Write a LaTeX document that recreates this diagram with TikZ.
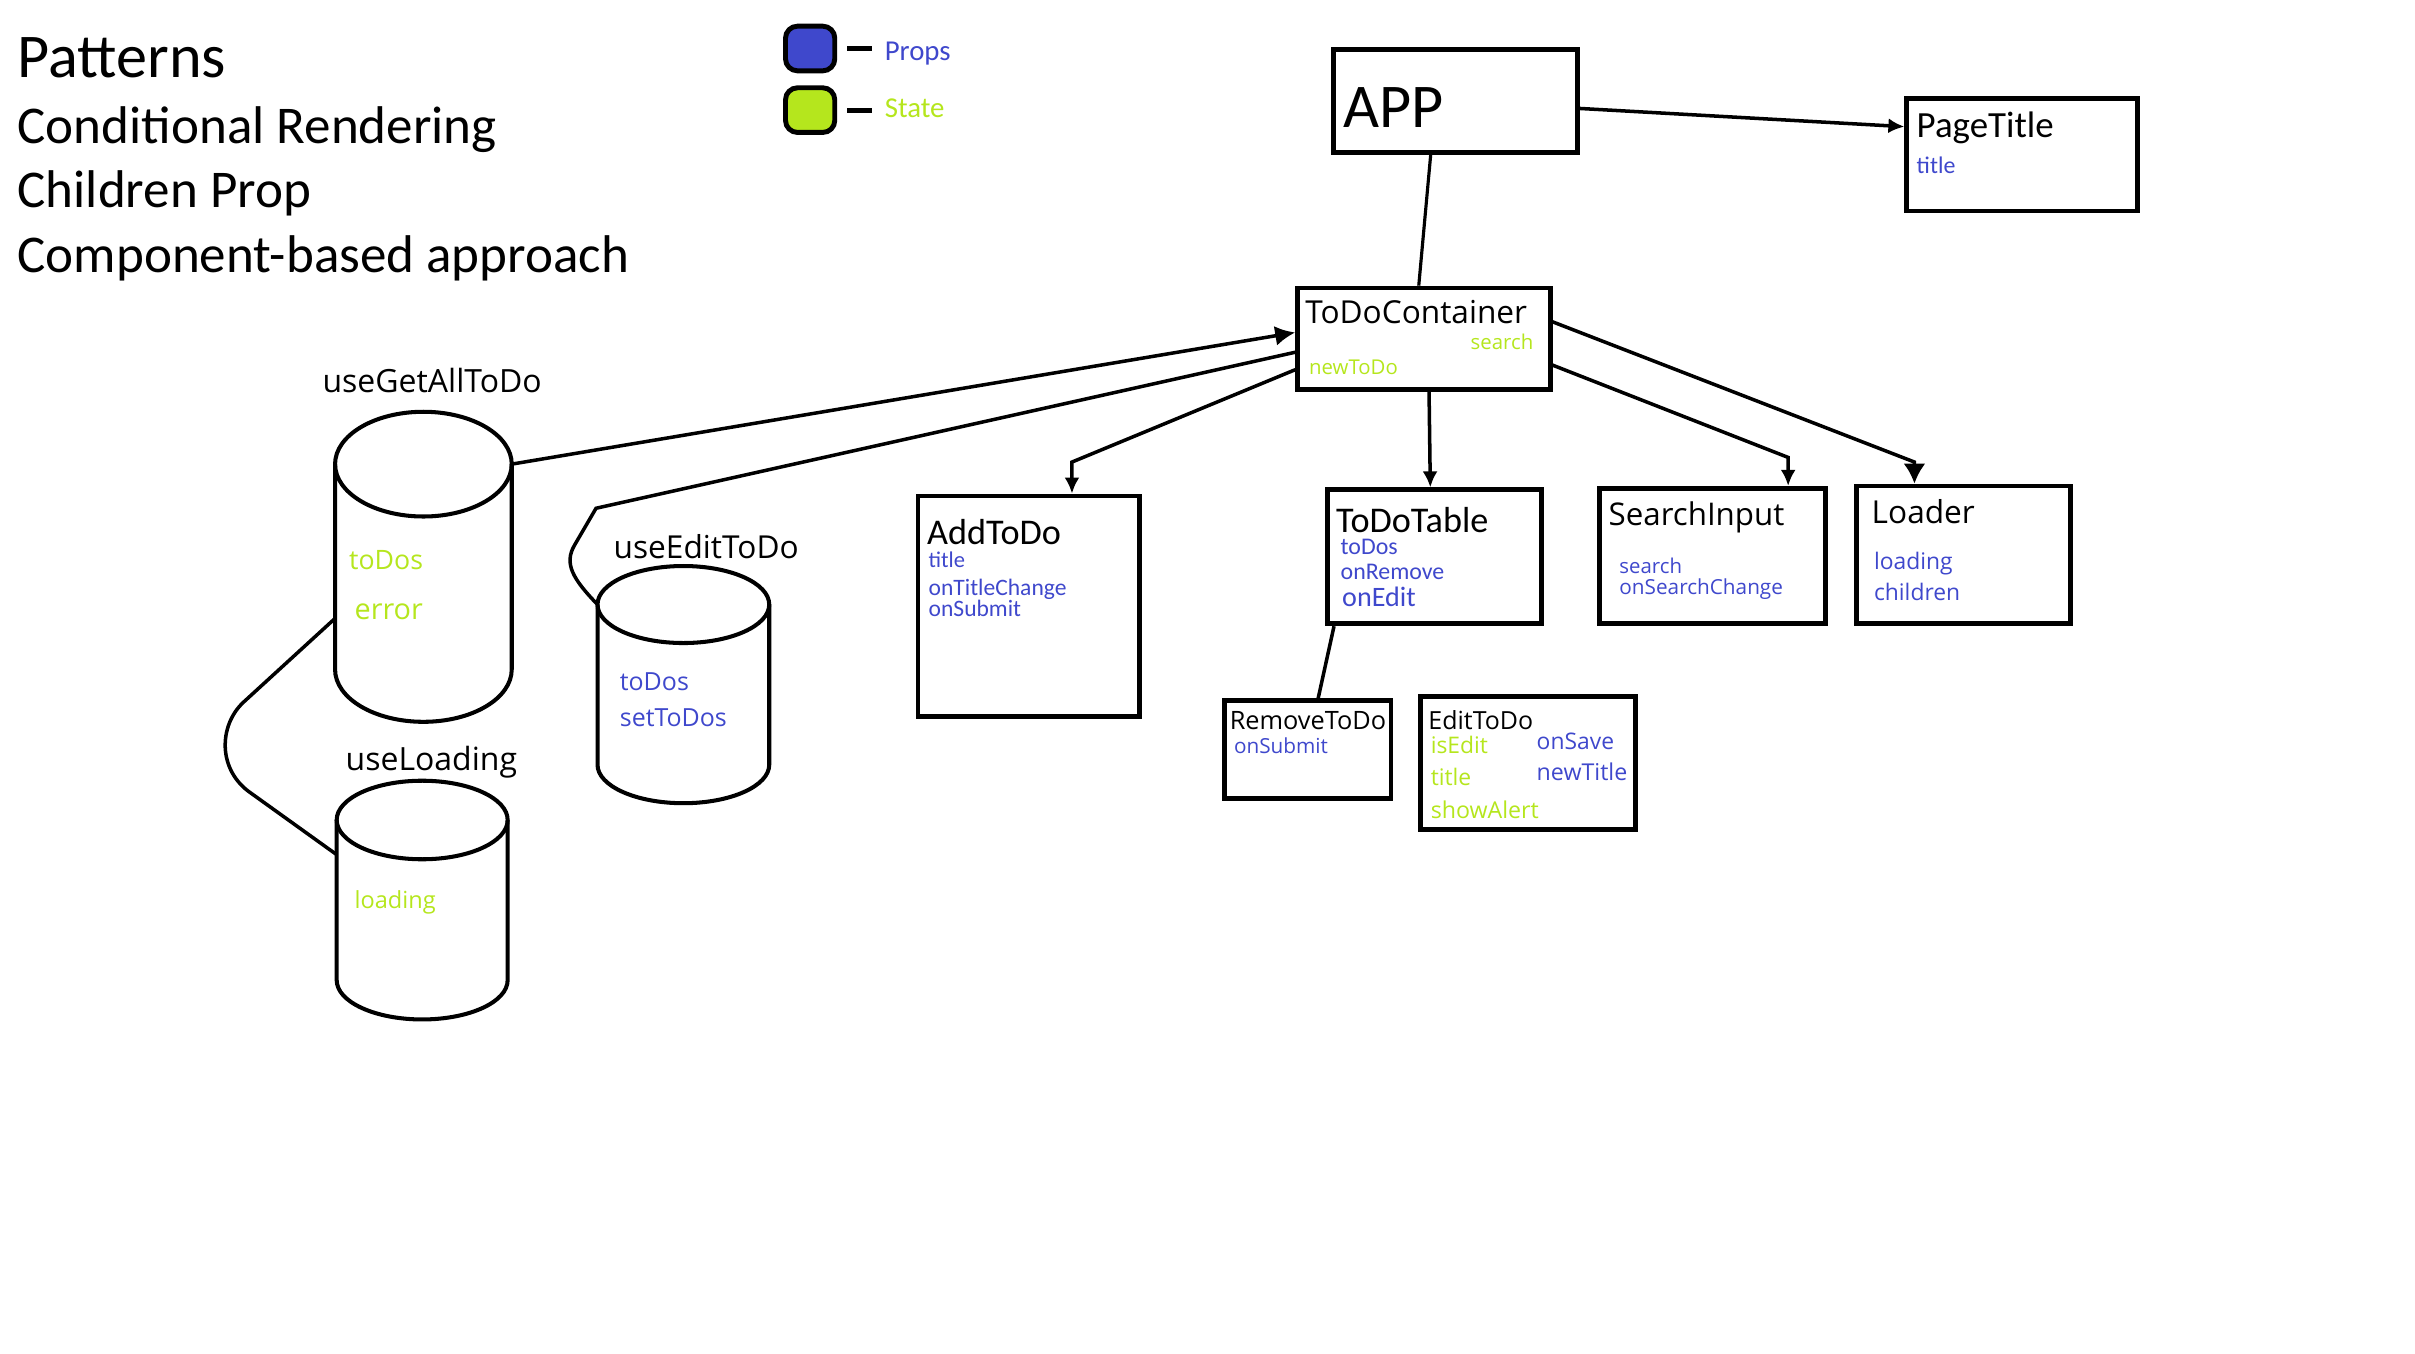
\documentclass[tikz,border=0pt]{standalone}
\usepackage{fontspec}
\setmainfont{Carlito}
\newfontfamily\segoe{Open Sans}
\usetikzlibrary{arrows.meta,calc}
\definecolor{propblue}{RGB}{63,72,204}
\definecolor{stategreen}{RGB}{181,230,29}
\newcommand{\unitpx}{0.15402mm}
\newcommand{\fsz}[1]{\fontsize{#1}{#1}\selectfont}
% outline of a hook drawn round its node: name, half width, cap height
\newcommand{\hookbody}[3]{%
    \draw[hookline] ($(#1.north west)+(0,#3)$) -- ($(#1.south west)+(0,-#3)$)
        arc[start angle=180, end angle=360, x radius=#2*\unitpx, y radius=#3*\unitpx]
        -- ($(#1.north east)+(0,#3)$);
    \draw[hookline] ($(#1.north)+(0,#3)$) ellipse[x radius=#2*\unitpx, y radius=#3*\unitpx];
}
\tikzset{
    comp/.style 2 args={draw, line width=1.35pt, inner sep=0pt,
        minimum width=#1*\unitpx, minimum height=#2*\unitpx},
    hook/.style 2 args={inner sep=0pt, outer sep=0pt,
        minimum width=#1*\unitpx, minimum height=#2*\unitpx},
    hookline/.style={line width=1.15pt},
    key/.style={draw, line width=1.4pt, rounded corners=1.2mm, inner sep=0pt,
        minimum width=32*\unitpx, minimum height=29*\unitpx},
    txt/.style={anchor=base west, inner sep=0pt},
    prop/.style={txt, text=propblue},
    state/.style={txt, text=stategreen},
    link/.style={line width=1pt},
    arr/.style={link, -{Latex[length=1.6mm,width=1.5mm]}},
    keydash/.style={line width=1.4pt, shorten <=2.8pt, shorten >=3.5pt}
}
\begin{document}
\begin{tikzpicture}[x=\unitpx, y=-\unitpx]
    \useasboundingbox (0,0) rectangle (1568,879.1);

    % Heading
    \node[txt, font=\fsz{17.7}] (patterns) at (11,50) {Patterns};
    \node[txt, font=\fsz{15.1}] (condrender) at (11,93) {Conditional Rendering};
    \node[txt, font=\fsz{15.1}] (childprop) at (11,135) {Children Prop};
    \node[txt, font=\fsz{15.1}] (compbased) at (11,177) {Component-based approach};

    % Legend
    \node[key, fill=propblue] (propkey) at (526,31.5) {};
    \node[key, fill=stategreen] (statekey) at (526,71.5) {};
    \node[prop, font=\fsz{8.2}] (propname) at (574,39.5) {Props};
    \node[state, font=\fsz{8.2}] (statename) at (574,76.5) {State};
    \draw[keydash] (propkey.east) -- (propkey.east -| propname.west);
    \draw[keydash] (statekey.east) -- (statekey.east -| statename.west);

    % Components
    \node[comp={158}{67}] (app) at (945,65.5) {};
    \node[comp={150}{73}] (pagetitle) at (1313,100.5) {};
    \node[comp={164}{66}] (container) at (924.5,220) {};
    \node[comp={144}{143}] (addtodo) at (668,393.5) {};
    \node[comp={139}{87}] (todotable) at (931.5,361.5) {};
    \node[comp={146.5}{88}] (searchinput) at (1111.8,361) {};
    \node[comp={139}{89.5}] (loader) at (1275,360.3) {};
    \node[comp={108}{63.5}] (removetodo) at (849.2,486.6) {};
    \node[comp={140}{86}] (edittodo) at (992.1,495.4) {};

    % Hooks
    \node[hook={114.7}{201.3}] (getall) at (274.9,368) {};
    \node[hook={111.5}{154}] (edithook) at (443.7,444.5) {};
    \node[hook={111}{155}] (loadhook) at (274.1,584.4) {};
    \hookbody{getall}{57.35}{34}
    \hookbody{edithook}{55.75}{25}
    \hookbody{loadhook}{55.5}{25.5}

    % Texts in the components
    \node[txt, font=\fsz{17.7}] (apptext) at (872,82.5) {APP};
    \node[txt, font=\fsz{10.5}] (pagetitletext) at (1244,89.5) {PageTitle};
    \node[prop, font=\fsz{6.8}] (pagetitleprop) at (1244,112.5) {title};
    \node[txt, font=\segoe\fsz{9}] (containertext) at (847,210) {ToDoContainer};
    \node[state, font=\segoe\fsz{5.8}, anchor=base east] (containersearch) at (996,227) {search};
    \node[state, font=\segoe\fsz{5.8}] (containernew) at (849.5,243) {newToDo};
    \node[txt, font=\fsz{10.3}] (addtodotext) at (601.5,353.5) {AddToDo};
    \node[prop, font=\fsz{6.4}] (addtitle) at (602.5,368.5) {title};
    \node[prop, font=\fsz{6.7}] (addchange) at (602.5,386.5) {onTitleChange};
    \node[prop, font=\fsz{6.7}] (addsubmit) at (602.5,400) {onSubmit};
    \node[txt, font=\fsz{10.3}] (tabletext) at (867,345.5) {ToDoTable};
    \node[prop, font=\fsz{6.8}] (tabletodos) at (870,360) {toDos};
    \node[prop, font=\fsz{6.8}] (tableremove) at (870,376) {onRemove};
    \node[prop, font=\fsz{8}] (tableedit) at (871,394) {onEdit};
    \node[txt, font=\segoe\fsz{8.9}] (searchtext) at (1044,341.5) {SearchInput};
    \node[prop, font=\segoe\fsz{5.8}] (searchsearch) at (1051,372.2) {search};
    \node[prop, font=\segoe\fsz{5.9}] (searchchange) at (1051,386.3) {onSearchChange};
    \node[txt, font=\segoe\fsz{9}] (loadertext) at (1214.8,339.8) {Loader};
    \node[prop, font=\segoe\fsz{6.5}] (loaderloading) at (1216.3,369.6) {loading};
    \node[prop, font=\segoe\fsz{6.5}] (loaderchildren) at (1216.3,390) {children};
    \node[txt, font=\segoe\fsz{7.2}] (removetext) at (798,473.5) {RemoveToDo};
    \node[prop, font=\segoe\fsz{5.9}] (removesubmit) at (800.8,489.5) {onSubmit};
    \node[txt, font=\segoe\fsz{7.1}] (edittext) at (927,473.5) {EditToDo};
    \node[state, font=\segoe\fsz{6.5}] (editisedit) at (928.5,489.5) {isEdit};
    \node[state, font=\segoe\fsz{6.5}] (edittitle) at (928.5,509.7) {title};
    \node[state, font=\segoe\fsz{6.6}] (editalert) at (928.5,531.3) {showAlert};
    \node[prop, font=\segoe\fsz{6.5}] (editsave) at (997.3,486.5) {onSave};
    \node[prop, font=\segoe\fsz{6.6}] (editnewtitle) at (997.3,507) {newTitle};

    % Texts of the hooks
    \node[txt, font=\segoe\fsz{9.1}] (getalltext) at (209,255) {useGetAllToDo};
    \node[state, font=\segoe\fsz{7.6}] (getalltodos) at (226.2,369.7) {toDos};
    \node[state, font=\segoe\fsz{8.2}] (getallerror) at (229.8,402.5) {error};
    \node[txt, font=\segoe\fsz{9}] (edithooktext) at (398,362.5) {useEditToDo};
    \node[prop, font=\segoe\fsz{7.1}] (edithooktodos) at (402,448.4) {toDos};
    \node[prop, font=\segoe\fsz{7.1}] (edithookset) at (402,471.8) {setToDos};
    \node[txt, font=\segoe\fsz{9.1}] (loadhooktext) at (224,500) {useLoading};
    \node[state, font=\segoe\fsz{6.7}] (loadhookloading) at (229.8,589.6) {loading};

    % Connectors
    \draw[arr] ($(app.north east)!0.57!(app.south east)$) -- ($(pagetitle.north west)!0.26!(pagetitle.south west)$);
    \draw[link, line width=0.9pt] ($(app.south west)!0.4!(app.south east)$) -- ($(container.north west)!0.48!(container.north east)$);
    \draw[arr, -{Latex[length=2mm,width=2mm]}] ($(getall.north east)+(0,34)$) -- ($(container.north west)!0.44!(container.south west)$);
    \draw[link] ($(container.north west)!0.626!(container.south west)$) -- (387,330) -- (373,354)
        .. controls (366,366) and (372,376) .. ($(edithook.north west)+(0,25)$);
    \draw[arr] ($(container.north west)!0.79!(container.south west)$) -- (696,300) -- (696,300 |- addtodo.north);
    \draw[arr] ($(container.south west)!0.52!(container.south east)$) -- ($(todotable.north west)!0.48!(todotable.north east)$);
    \draw[arr] ($(container.north east)!0.747!(container.south east)$) -- (1161,297) -- (1161,297 |- searchinput.north);
    \draw[arr, -{Latex[length=2mm,width=2.2mm]}] ($(container.north east)!0.34!(container.south east)$) -- (1243,300) -- (1243,300 |- loader.north);
    \draw[link] ($(todotable.south west)!0.04!(todotable.south east)$) -- ($(removetodo.north west)!0.56!(removetodo.north east)$);
    \draw[link] ($(getall.west)+(0,33.5)$) -- (158,456) .. controls (142,471) and (141,500) .. (163,515)
        -- ($(loadhook.west)+(0,-29.5)$);
\end{tikzpicture}
\end{document}
